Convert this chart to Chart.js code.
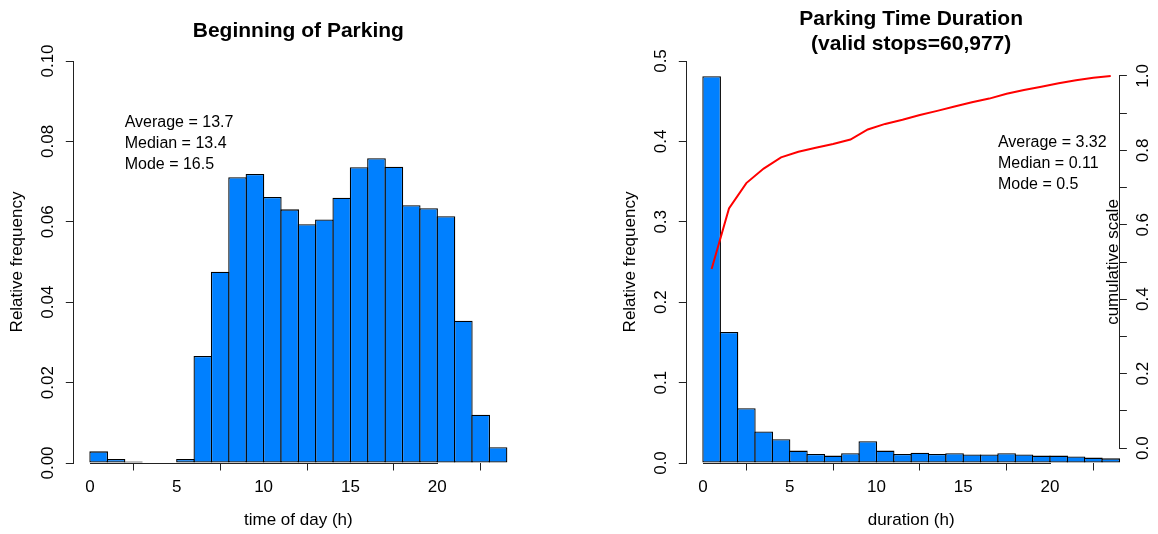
<!DOCTYPE html>
<html>
<head>
<meta charset="utf-8">
<script src="https://cdn.jsdelivr.net/npm/chart.js@4.4.1/dist/chart.umd.min.js"></script>
<style>
  html, body { margin: 0; padding: 0; background: #fff; }
  #page { position: relative; width: 1158px; height: 534px; overflow: hidden; }
  .panel { position: absolute; top: 0; width: 579px; height: 534px; }
  #startPanel { left: 0; }
  #durationPanel { left: 579px; }
</style>
</head>
<body>
<div id="page">
  <div class="panel" id="startPanel"><canvas id="startChart" width="579" height="534"></canvas></div>
  <div class="panel" id="durationPanel"><canvas id="durationChart" width="579" height="534"></canvas></div>
</div>
<script>
// ---- data -------------------------------------------------------------
// one-hour bins, identified by the hour they start at
const hourBins = [0, 1, 2, 3, 4, 5, 6, 7, 8, 9, 10, 11, 12, 13, 14, 15, 16, 17, 18, 19, 20, 21, 22, 23];

// relative frequency of parking starts per hour of day
const startShare = [0.0029, 0.0010, 0.0004, 0.0001, 0.0001, 0.0010, 0.0266, 0.0476, 0.0711, 0.0719,
                    0.0662, 0.0631, 0.0594, 0.0606, 0.0660, 0.0736, 0.0758, 0.0737, 0.0641, 0.0634,
                    0.0614, 0.0354, 0.0120, 0.0039];

// relative frequency of parking durations (hours)
const durationShare = [0.481, 0.163, 0.0681, 0.0391, 0.0295, 0.0154, 0.0112, 0.0092, 0.0121, 0.0270,
                       0.0154, 0.0112, 0.0129, 0.0112, 0.0121, 0.0105, 0.0105, 0.0121, 0.0105, 0.0092,
                       0.0092, 0.0080, 0.0067, 0.0058];

// cumulative share of durations, plotted at bin midpoints
const cumulativeShare = [0.481, 0.644, 0.712, 0.751, 0.781, 0.796, 0.807, 0.817, 0.829, 0.856,
                         0.871, 0.882, 0.895, 0.906, 0.918, 0.929, 0.939, 0.952, 0.962, 0.971,
                         0.980, 0.988, 0.995, 1.000];

// tick values
const hourTicks = [0, 5, 10, 15, 20];
const startFreqTicks = [0, 0.02, 0.04, 0.06, 0.08, 0.10];
const durationFreqTicks = [0, 0.1, 0.2, 0.3, 0.4, 0.5];
const cumulativeTicks = [0, 0.1, 0.2, 0.3, 0.4, 0.5, 0.6, 0.7, 0.8, 0.9, 1.0];

// summary statistics printed inside each panel
const startNotes = ['Average = 13.7', 'Median = 13.4', 'Mode = 16.5'];
const durationNotes = ['Average = 3.32', 'Median = 0.11', 'Mode = 0.5'];

// ---- styling ------------------------------------------------------------
const FAMILY = '"Liberation Sans", Arial, Helvetica, sans-serif';
const AXIS_COLOR = '#222';
const BAR_FILL = '#0080ff';
const BAR_EDGE = 1.3;
const tickFont = { family: FAMILY, size: 17 };
const PANEL_W = 579, PANEL_H = 534;
const FRAME_TOP = 61, FRAME_BOTTOM = 463;

// R-style axis lines: each axis line runs from its first to its last tick
const axisLines = {
  id: 'axisLines',
  afterDatasetsDraw(chart) {
    const ctx = chart.ctx;
    ctx.save();
    ctx.strokeStyle = AXIS_COLOR;
    ctx.lineWidth = 1;
    Object.values(chart.scales).forEach(s => {
      if (!s.ticks || s.ticks.length < 2) return;
      const a = s.getPixelForTick(0);
      const b = s.getPixelForTick(s.ticks.length - 1);
      ctx.beginPath();
      if (s.isHorizontal()) {
        const y = Math.round(s.top) + 0.5;
        ctx.moveTo(Math.round(a), y);
        ctx.lineTo(Math.round(b) + 1, y);
      } else {
        const x = s.position === 'left' ? Math.round(s.right) + 0.5 : Math.round(s.left) + 0.5;
        ctx.moveTo(x, Math.round(a) + 1);
        ctx.lineTo(x, Math.round(b));
      }
      ctx.stroke();
    });
    ctx.restore();
  }
};

// headings, statistic notes and extra axis captions
const panelText = {
  id: 'panelText',
  afterDraw(chart, args, o) {
    const ctx = chart.ctx;
    const xs = chart.scales.x, ys = chart.scales.y;
    const area = chart.chartArea;
    const cx = xs.getPixelForValue(o.centre);
    ctx.save();
    ctx.fillStyle = '#000';

    ctx.font = 'bold 21px ' + FAMILY;
    ctx.textAlign = 'center';
    ctx.textBaseline = 'alphabetic';
    const n = o.heading.length;
    o.heading.forEach((line, i) => ctx.fillText(line, cx, 37 + (i - (n - 1) / 2) * 25));

    ctx.font = '16px ' + FAMILY;
    ctx.textAlign = 'left';
    const nx = xs.getPixelForValue(o.noteAt.x);
    const ny = ys.getPixelForValue(o.noteAt.y);
    o.notes.forEach((line, i) => ctx.fillText(line, nx, ny + i * 20.8));

    ctx.font = '17px ' + FAMILY;
    if (o.xCaption) {
      ctx.textAlign = 'center';
      ctx.textBaseline = 'middle';
      ctx.fillText(o.xCaption, cx, 520);
    }
    if (o.sideCaption) {
      const s2 = chart.scales[o.sideCaption.axis];
      ctx.translate(s2.left - 1.5, (area.top + area.bottom) / 2);
      ctx.rotate(-Math.PI / 2);
      ctx.textAlign = 'center';
      ctx.textBaseline = 'alphabetic';
      ctx.fillText(o.sideCaption.text, 0, 0);
    }
    ctx.restore();
  }
};

Chart.register(axisLines, panelText);

function fixedTicks(values) {
  return s => { s.ticks = values.map(v => ({ value: v })); };
}

function histogram(canvasId, frame, share, yMax, yTicks, yDigits, yLabelPad, yTitlePad, extra) {
  const unitPx = (frame.right - frame.left) / (frame.xMax - frame.xMin);
  // bars are widened by one border width so neighbouring outlines overlap into a single line
  const bars = {
    type: 'bar',
    order: 1,
    data: hourBins.map((h, i) => ({ x: h + 0.5, y: share[i] })),
    backgroundColor: BAR_FILL,
    borderColor: '#000',
    borderWidth: BAR_EDGE,
    borderSkipped: false,
    inflateAmount: 0,
    categoryPercentage: 1,
    barPercentage: 1 + BAR_EDGE / unitPx,
    clip: false
  };
  const scales = {
    x: {
      type: 'linear',
      min: frame.xMin,
      max: frame.xMax,
      offset: false,
      afterBuildTicks: fixedTicks(hourTicks),
      afterFit: s => { s.height = PANEL_H - FRAME_BOTTOM; },
      grid: { drawOnChartArea: false, color: AXIS_COLOR, tickLength: 7.5 },
      border: { display: false },
      ticks: { autoSkip: false, maxRotation: 0, padding: 6.5, font: tickFont, color: '#000' },
      title: extra.xTitle
        ? { display: true, text: extra.xTitle, font: tickFont, color: '#000', padding: { top: 0, bottom: 3.8 } }
        : { display: false }
    },
    y: {
      position: 'left',
      min: 0,
      max: yMax,
      afterBuildTicks: fixedTicks(yTicks),
      afterFit: s => { s.width = frame.left; },
      grid: { drawOnChartArea: false, color: AXIS_COLOR, tickLength: 7.5 },
      border: { display: false },
      ticks: {
        autoSkip: false, minRotation: 90, maxRotation: 90, crossAlign: 'center',
        padding: yLabelPad, font: tickFont, color: '#000',
        callback: v => v.toFixed(yDigits)
      },
      title: { display: true, text: 'Relative frequency', font: tickFont, color: '#000', padding: { top: yTitlePad, bottom: 0 } }
    }
  };
  const datasets = [bars];
  if (extra.cumulative) {
    datasets.push({
      type: 'line',
      order: 0,
      yAxisID: 'y2',
      data: hourBins.map((h, i) => ({ x: h + 0.5, y: extra.cumulative[i] })),
      borderColor: '#ff0000',
      borderWidth: 2,
      pointRadius: 0,
      tension: 0,
      fill: false
    });
    scales.y2 = {
      position: 'right',
      min: -0.04,
      max: 1.04,
      afterBuildTicks: fixedTicks(cumulativeTicks),
      afterFit: s => { s.width = PANEL_W - frame.right; },
      grid: { drawOnChartArea: false, color: AXIS_COLOR, tickLength: 7.5 },
      border: { display: false },
      ticks: {
        autoSkip: false, minRotation: 90, maxRotation: 90, crossAlign: 'center',
        padding: 5, font: tickFont, color: '#000',
        callback: (v, i) => (i % 2 === 0 ? v.toFixed(1) : '')
      }
    };
  }
  return new Chart(document.getElementById(canvasId), {
    type: 'bar',
    data: { datasets },
    options: {
      responsive: false,
      animation: false,
      events: [],
      layout: {
        autoPadding: false,
        padding: { top: FRAME_TOP, bottom: 0, left: 0, right: extra.cumulative ? 0 : PANEL_W - frame.right }
      },
      scales,
      plugins: {
        legend: { display: false },
        tooltip: { enabled: false },
        title: { display: false },
        panelText: {
          centre: 12,
          heading: extra.heading,
          notes: extra.notes,
          noteAt: extra.noteAt,
          xCaption: extra.xCaption,
          sideCaption: extra.sideCaption
        }
      }
    }
  });
}

// left panel: start time of parking events
histogram('startChart',
  { left: 73.3, right: 523.4, xMin: -0.96, xMax: 24.96 },
  startShare, 0.1, startFreqTicks, 2, 1, 7.3,
  {
    heading: ['Beginning of Parking'],
    notes: startNotes,
    noteAt: { x: 2, y: 0.0835 },
    xTitle: 'time of day (h)'
  });

// right panel: parking duration with cumulative curve
histogram('durationChart',
  { left: 107.3, right: 540.4, xMin: -0.96, xMax: 24 },
  durationShare, 0.5, durationFreqTicks, 1, 6, 40.8,
  {
    heading: ['Parking Time Duration', '(valid stops=60,977)'],
    notes: durationNotes,
    noteAt: { x: 17, y: 0.393 },
    xCaption: 'duration (h)',
    sideCaption: { axis: 'y2', text: 'cumulative scale' },
    cumulative: cumulativeShare
  });
</script>
</body>
</html>
